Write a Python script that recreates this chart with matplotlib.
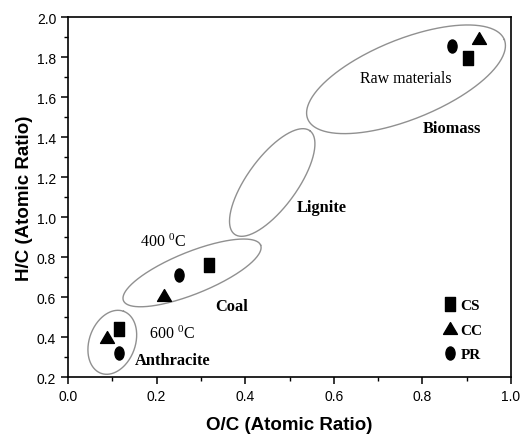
import numpy as np
import matplotlib
matplotlib.use("Agg")
import matplotlib.pyplot as plt
from matplotlib.path import Path
from matplotlib.markers import MarkerStyle
from matplotlib.ticker import MultipleLocator
from matplotlib.transforms import Affine2D

plt.rcParams['mathtext.default'] = 'regular'

# O/C and H/C atomic ratios: raw material, 400 C char, 600 C char
cs_oc = [0.902, 0.319, 0.115]
cs_hc = [1.795, 0.763, 0.442]
cc_oc = [0.928, 0.217, 0.089]
cc_hc = [1.895, 0.612, 0.400]
pr_oc = [0.866, 0.251, 0.115]
pr_hc = [1.855, 0.712, 0.322]
series_names = ["CS", "CC", "PR"]

# region ellipses: centre (O/C, H/C), semi axes in pixels, tilt in degrees
regions = [
    ((0.763, 1.690), 106, 40, 22),
    ((0.461, 1.174), 64, 25, 54),
    ((0.280, 0.722), 74, 21, 22),
    ((0.100, 0.375), 33, 23, 70),
]

region_labels = [
    ("Raw materials", 0.762, 1.696, "normal"),
    ("Biomass", 0.866, 1.445, "bold"),
    ("Lignite", 0.573, 1.052, "bold"),
    ("400 $^{0}$C", 0.215, 0.880, "normal"),
    ("Coal", 0.370, 0.558, "bold"),
    ("600 $^{0}$C", 0.235, 0.422, "normal"),
    ("Anthracite", 0.236, 0.287, "bold"),
]

W, H = 529, 435
fig = plt.figure(figsize=(W / 100, H / 100), dpi=100)
x0, x1, y0, y1 = 68, 511, 18.3, 378.3
ax = fig.add_axes([x0 / W, (H - y1) / H, (x1 - x0) / W, (y1 - y0) / H])
ax.set_xlim(0, 1.0)
ax.set_ylim(0.2, 2.0)
px_x = (x1 - x0) / 1.0
px_y = (y1 - y0) / 1.8

# stretched markers like the original picture
sq = Path(np.array([[-0.77, -1], [0.77, -1], [0.77, 1], [-0.77, 1], [-0.77, -1]]), closed=True)
tri = Path(np.array([[-1, -0.85], [1, -0.85], [0, 0.85], [-1, -0.85]]), closed=True)
circ = Path.unit_circle().transformed(Affine2D().scale(0.7, 1.0))
markers = [(sq, 9.4), (tri, 10.0), (circ, 9.4)]

handles = []
for (oc, hc), (m, ms), name in zip([(cs_oc, cs_hc), (cc_oc, cc_hc), (pr_oc, pr_hc)], markers, series_names):
    h, = ax.plot(oc, hc, ls='none', marker=MarkerStyle(m), markersize=ms,
                 color='black', label=name, zorder=3)
    handles.append(h)

t = np.linspace(0, 2 * np.pi, 300)
for (cx, cy), a, b, ang in regions:
    th = np.radians(ang)
    u = a * np.cos(t) * np.cos(th) - b * np.sin(t) * np.sin(th)
    v = a * np.cos(t) * np.sin(th) + b * np.sin(t) * np.cos(th)
    ax.plot(cx + u / px_x, cy + v / px_y, color='#909090', lw=1.0, zorder=2)

for txt, x, y, w in region_labels:
    ax.text(x, y, txt, ha='center', va='center',
            fontsize=11.8 if w == 'bold' else 11.5,
            family='Liberation Serif', fontweight=w)

leg = ax.legend(handles=handles, loc='lower right', frameon=False,
                bbox_to_anchor=(0.96, 0.015), handlelength=0.8, handletextpad=0.3,
                labelspacing=0.7, borderaxespad=0.3,
                prop={'family': 'Liberation Serif', 'weight': 'bold', 'size': 11})

ax.xaxis.set_major_locator(MultipleLocator(0.2))
ax.xaxis.set_minor_locator(MultipleLocator(0.1))
ax.yaxis.set_major_locator(MultipleLocator(0.2))
ax.yaxis.set_minor_locator(MultipleLocator(0.1))
ax.xaxis.set_major_formatter(plt.FuncFormatter(lambda v, p: f"{v:.1f}"))
ax.yaxis.set_major_formatter(plt.FuncFormatter(lambda v, p: f"{v:.1f}"))
ax.tick_params(which='major', direction='out', length=5, width=1.1, labelsize=10)
ax.tick_params(which='minor', direction='out', length=3, width=1.0)
for lab in ax.get_xticklabels() + ax.get_yticklabels():
    lab.set_family('Liberation Sans')
for s in ax.spines.values():
    s.set_linewidth(1.2)

ax.set_xlabel("O/C (Atomic Ratio)", fontsize=13.5, fontweight='bold', family='Liberation Sans', labelpad=9)
ax.set_ylabel("H/C (Atomic Ratio)", fontsize=13.5, fontweight='bold', family='Liberation Sans', labelpad=3)

fig.savefig("out.png", dpi=100)
